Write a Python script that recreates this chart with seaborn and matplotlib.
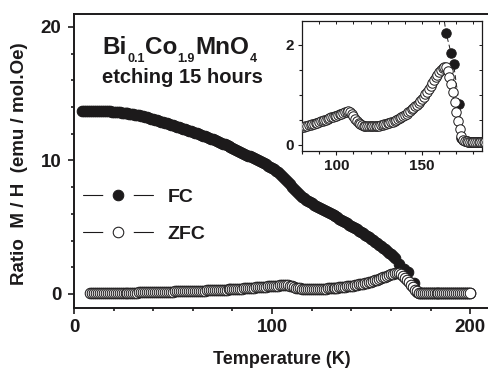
import matplotlib
matplotlib.use("Agg")
import matplotlib.pyplot as plt
import seaborn as sns
import pandas as pd
from matplotlib.lines import Line2D
from matplotlib.ticker import MultipleLocator, FixedLocator

# ---------------- data ----------------
# FC branch: temperatures (K) and M/H values
fc_temp_low = list(range(4, 163))
fc_ratio_low = [13.74, 13.74, 13.74, 13.74, 13.73, 13.73,
                13.73, 13.72, 13.72, 13.71, 13.71, 13.70, 13.70, 13.69, 13.68, 13.66,
                13.65, 13.63, 13.62, 13.60, 13.59, 13.57, 13.55, 13.53, 13.51, 13.48,
                13.46, 13.43, 13.41, 13.38, 13.35, 13.31, 13.27, 13.22, 13.18, 13.13,
                13.09, 13.04, 13.00, 12.95, 12.91, 12.86, 12.82, 12.77, 12.72, 12.67,
                12.62, 12.57, 12.53, 12.48, 12.43, 12.38, 12.33, 12.28, 12.23, 12.17,
                12.12, 12.07, 12.02, 11.97, 11.92, 11.86, 11.81, 11.75, 11.70, 11.64,
                11.58, 11.52, 11.46, 11.39, 11.33, 11.26, 11.20, 11.13, 11.07, 11.00,
                10.93, 10.86, 10.79, 10.72, 10.65, 10.58, 10.51, 10.44, 10.37, 10.30,
                10.23, 10.16, 10.09, 10.01, 9.94, 9.86, 9.79, 9.70, 9.62, 9.53,
                9.44, 9.33, 9.22, 9.10, 8.97, 8.83, 8.68, 8.53, 8.38, 8.21,
                8.05, 7.88, 7.72, 7.56, 7.42, 7.29, 7.17, 7.06, 6.96, 6.87,
                6.78, 6.70, 6.62, 6.54, 6.46, 6.38, 6.31, 6.23, 6.15, 6.07,
                5.99, 5.91, 5.82, 5.74, 5.65, 5.56, 5.47, 5.38, 5.29, 5.20,
                5.11, 5.02, 4.92, 4.83, 4.73, 4.64, 4.54, 4.44, 4.34, 4.24,
                4.13, 4.03, 3.92, 3.81, 3.70, 3.59, 3.47, 3.35, 3.23, 3.10,
                2.97, 2.84, 2.72]
fc_temp_drop = [164, 166.8, 168.4, 171.6, 173]
fc_ratio_drop = [2.25, 1.85, 1.63, 0.83, 0.15]
fc_temp_high = list(range(174, 201))
fc_ratio_high = [0.10, 0.09, 0.08,
                 0.07, 0.07, 0.07, 0.07, 0.07, 0.07, 0.07, 0.07, 0.07, 0.07, 0.07, 0.07, 0.07,
                 0.06, 0.06, 0.06, 0.06, 0.06, 0.06, 0.06, 0.06, 0.06, 0.06, 0.06]

# ZFC branch
zfc_temp = list(range(8, 201))
zfc_ratio = [0.05, 0.05,
             0.05, 0.06, 0.06, 0.06, 0.06, 0.07, 0.07, 0.07, 0.07, 0.08,
             0.08, 0.08, 0.08, 0.09, 0.09, 0.09, 0.09, 0.10, 0.10, 0.11,
             0.11, 0.11, 0.11, 0.12, 0.12, 0.13, 0.13, 0.13, 0.13, 0.14,
             0.14, 0.15, 0.15, 0.16, 0.16, 0.16, 0.16, 0.17, 0.17, 0.18,
             0.18, 0.19, 0.19, 0.20, 0.20, 0.21, 0.21, 0.21, 0.21, 0.22,
             0.22, 0.23, 0.23, 0.24, 0.24, 0.25, 0.26, 0.27, 0.27, 0.28,
             0.28, 0.29, 0.29, 0.30, 0.31, 0.32, 0.32, 0.33, 0.34, 0.35,
             0.36, 0.37, 0.38, 0.39, 0.40, 0.41, 0.42, 0.43, 0.44, 0.45,
             0.46, 0.48, 0.49, 0.50, 0.51, 0.53, 0.54, 0.56, 0.57, 0.58,
             0.59, 0.61, 0.62, 0.63, 0.64, 0.66, 0.67, 0.68, 0.67, 0.63,
             0.58, 0.53, 0.48, 0.45, 0.42, 0.40, 0.39, 0.38, 0.38, 0.38,
             0.38, 0.38, 0.38, 0.38, 0.39, 0.39, 0.40, 0.41, 0.42, 0.43,
             0.44, 0.45, 0.46, 0.47, 0.49, 0.51, 0.53, 0.55, 0.57, 0.59,
             0.61, 0.63, 0.66, 0.69, 0.72, 0.75, 0.78, 0.81, 0.85, 0.89,
             0.93, 0.97, 1.02, 1.07, 1.12, 1.18, 1.24, 1.30, 1.36, 1.41,
             1.46, 1.50, 1.54, 1.57, 1.57, 1.48, 1.36, 1.22, 1.06, 0.86,
             0.66, 0.49, 0.33, 0.19, 0.11, 0.09, 0.08, 0.07, 0.07, 0.07,
             0.07, 0.07, 0.07, 0.07, 0.07, 0.07, 0.07, 0.07, 0.07, 0.07,
             0.06, 0.06, 0.06, 0.06, 0.06, 0.06, 0.06, 0.06, 0.06, 0.06,
             0.06]

series_labels = ["FC", "ZFC"]
title_parts = ["Bi", "0.1", "Co", "1.9", "MnO", "4"]
title_sub = [False, True, False, True, False, True]
subtitle = "etching 15 hours"
x_label = "Temperature (K)"
y_label = "Ratio  M / H  (emu / mol.Oe)"
main_xticks = [0, 100, 200]
main_yticks = [0, 10, 20]
inset_xticks = [100, 150]
inset_yticks = [0, 2]

# ---------------- style ----------------
sns.set_theme(style="ticks")
plt.rcParams["font.family"] = ["Liberation Sans", "DejaVu Sans"]
plt.rcParams["font.weight"] = "bold"
INK = "#1c1a1b"

fc = pd.DataFrame({"T": fc_temp_low + fc_temp_drop + fc_temp_high,
                   "M": fc_ratio_low + fc_ratio_drop + fc_ratio_high})
zfc = pd.DataFrame({"T": zfc_temp, "M": zfc_ratio})

W, H = 488, 369
fig = plt.figure(figsize=(W / 100, H / 100), dpi=100)
fig.patch.set_facecolor("white")


def draw_series(ax, ms, mew, lw):
    sns.lineplot(data=fc, x="T", y="M", ax=ax, sort=False, estimator=None,
                 color=INK, linewidth=lw, linestyle=(0, (5, 3)), marker="o",
                 markersize=ms, markerfacecolor=INK, markeredgecolor=INK,
                 markeredgewidth=mew, zorder=2, legend=False)
    sns.lineplot(data=zfc, x="T", y="M", ax=ax, sort=False, estimator=None,
                 color=INK, linewidth=lw, marker="o", markersize=ms,
                 markerfacecolor="white", markeredgecolor=INK,
                 markeredgewidth=mew, zorder=3, legend=False)


# ---------------- main axes ----------------
ax = fig.add_axes([74 / W, (H - 308) / H, 416 / W, 294 / H])
draw_series(ax, 7.6, 0.75, 0.7)
ax.set_xlim(0, 210)
ax.set_ylim(-1.05, 20.97)
ax.xaxis.set_major_locator(FixedLocator(main_xticks))
ax.xaxis.set_minor_locator(MultipleLocator(20))
ax.yaxis.set_major_locator(FixedLocator(main_yticks))
ax.yaxis.set_minor_locator(MultipleLocator(2))
ax.tick_params(which="both", direction="out", colors=INK, width=1.2)
ax.tick_params(which="major", length=4.2, labelsize=13.5)
ax.tick_params(which="minor", length=2.3)
ax.tick_params(axis="x", which="major", pad=4)
ax.tick_params(axis="y", which="major", pad=5)
for lab in ax.get_xticklabels() + ax.get_yticklabels():
    lab.set_fontweight("bold")
for s in ["left", "bottom", "top"]:
    ax.spines[s].set_linewidth(1.4)
    ax.spines[s].set_color(INK)
ax.spines["right"].set_visible(False)
ax.set_xlabel(x_label, fontsize=13, fontweight="bold", color=INK, va="center")
ax.xaxis.set_label_coords(0.5, (308 - 360) / 294)
ax.set_ylabel(y_label, fontsize=13.5, fontweight="bold", color=INK, va="center")
ax.yaxis.set_label_coords((20 - 74) / 416, (308 - 164) / 294)

# legend with gaps around the markers
fc_handle = (Line2D([], [], color=INK, lw=0.8),
             Line2D([], [], ls="none", marker="o", ms=21, mfc="white", mec="white"),
             Line2D([], [], ls="none", marker="o", ms=7.6, mfc=INK, mec=INK, mew=0.75))
zfc_handle = (Line2D([], [], color=INK, lw=0.8),
              Line2D([], [], ls="none", marker="o", ms=21, mfc="white", mec="white"),
              Line2D([], [], ls="none", marker="o", ms=7.6, mfc="white", mec=INK, mew=0.75))
leg = ax.legend([fc_handle, zfc_handle], series_labels, loc="center left",
                bbox_to_anchor=(9 / 416, (308 - 215.5) / 294), frameon=False,
                borderpad=0, borderaxespad=0, handlelength=3.6, handletextpad=0.75,
                labelspacing=1.0, prop={"weight": "bold", "size": 14})
for t in leg.get_texts():
    t.set_color(INK)

# title composed of pieces (subscripts smaller and lowered)
renderer = fig.canvas.get_renderer()
x_px = 102.5
base_px = H - 53.5
for part, sub in zip(title_parts, title_sub):
    size = 9 if sub else 17.5
    y = base_px - (9 if sub else 0)
    t = fig.text(x_px / W, y / H, part, fontsize=size, fontweight="bold",
                 ha="left", va="baseline", color=INK)
    bb = t.get_window_extent(renderer)
    x_px = bb.x1 + 0.3
fig.text(102.5 / W, (H - 83) / H, subtitle, fontsize=14.5, fontweight="bold",
         ha="left", va="baseline", color=INK)

# ---------------- inset ----------------
axi = fig.add_axes([302 / W, (H - 151) / H, 180 / W, 130 / H])
draw_series(axi, 6.8, 0.7, 0.7)
axi.set_xlim(80, 185)
axi.set_ylim(-0.12, 2.48)
axi.xaxis.set_major_locator(FixedLocator(inset_xticks))
axi.xaxis.set_minor_locator(MultipleLocator(10))
axi.yaxis.set_major_locator(FixedLocator(inset_yticks))
axi.yaxis.set_minor_locator(MultipleLocator(0.5))
axi.tick_params(which="both", direction="out", colors=INK, width=0.8)
axi.tick_params(which="major", length=3, labelsize=11, pad=2.5)
axi.tick_params(which="minor", length=2)
for lab in axi.get_xticklabels() + axi.get_yticklabels():
    lab.set_fontweight("bold")
for s in axi.spines.values():
    s.set_linewidth(0.9)
    s.set_color(INK)
axi.set_xlabel("")
axi.set_ylabel("")
sec_r = axi.secondary_yaxis("right")
sec_r.yaxis.set_major_locator(MultipleLocator(0.5))
sec_r.tick_params(direction="in", length=2, width=0.7, labelright=False, colors=INK)
sec_r.spines["right"].set_visible(False)
sec_t = axi.secondary_xaxis("top")
sec_t.xaxis.set_major_locator(MultipleLocator(10))
sec_t.tick_params(direction="in", length=2, width=0.7, labeltop=False, colors=INK)
sec_t.spines["top"].set_visible(False)

fig.savefig("out.png", dpi=100, facecolor="white")
